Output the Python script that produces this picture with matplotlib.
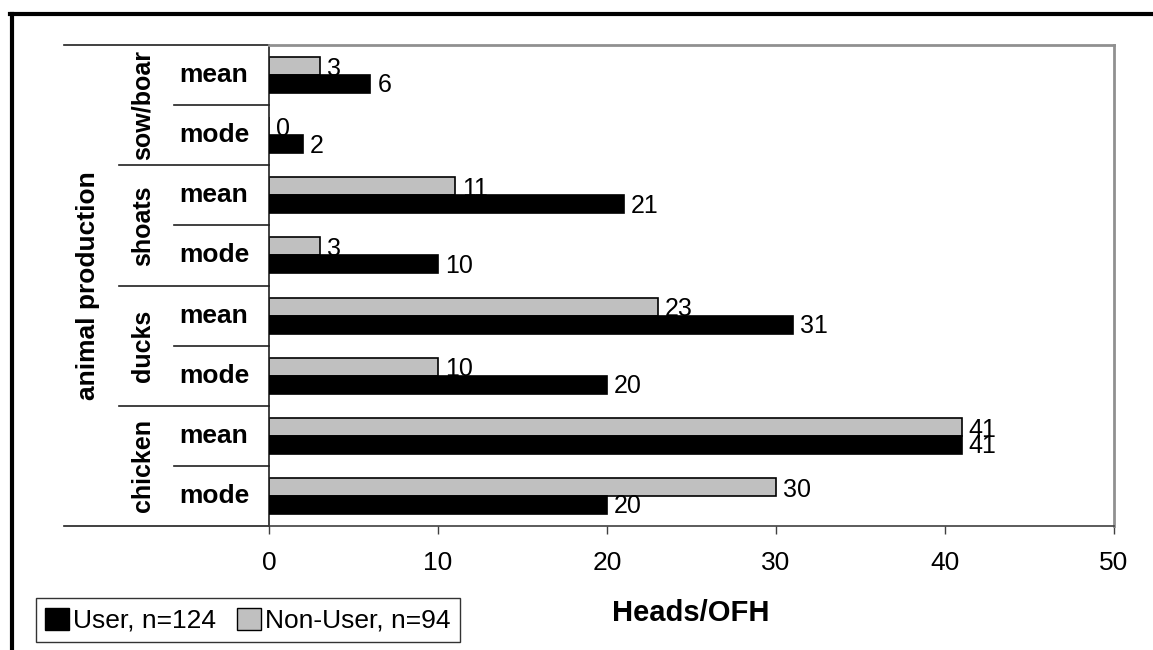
import numpy as np
import matplotlib
matplotlib.use('Agg')
import matplotlib.pyplot as plt
from matplotlib.lines import Line2D
from matplotlib.patches import Patch

plt.rcParams['font.family'] = ['Liberation Sans', 'DejaVu Sans']

# data (top row first)
groups = ['sow/boar', 'shoats', 'ducks', 'chicken']
stats = ['mean', 'mode']
user_vals = [6, 2, 21, 10, 31, 20, 41, 20]
nonuser_vals = [3, 0, 11, 3, 23, 10, 41, 30]
x_ticks = [0, 10, 20, 30, 40, 50]
user_label = 'User, n=124'
nonuser_label = 'Non-User, n=94'
x_title = 'Heads/OFH'
outer_title = 'animal production'

GRAY = '#c0c0c0'
W, H = 1153, 650


def main():
    fig = plt.figure(figsize=(W / 100, H / 100), dpi=100)
    ax = fig.add_axes([269 / W, 1 - 526 / H, (1114 - 269) / W, (526 - 45) / H])

    n = len(user_vals)
    y = np.arange(n)
    bh = 0.3

    # non-user bars + labels sit under the user bars (Excel draw order)
    ax.barh(y - bh / 2, nonuser_vals, height=bh, color=GRAY,
            edgecolor='black', linewidth=1.2, zorder=2)
    for yi, v in zip(y, nonuser_vals):
        ax.annotate(str(v), (v, yi - bh / 2), xytext=(5, -2),
                    textcoords='offset points', ha='left', va='center',
                    fontsize=18, zorder=3)
    ax.barh(y + bh / 2, user_vals, height=bh, color='black',
            edgecolor='black', linewidth=1.2, zorder=4)
    for yi, v in zip(y, user_vals):
        ax.annotate(str(v), (v, yi + bh / 2), xytext=(5, -1),
                    textcoords='offset points', ha='left', va='center',
                    fontsize=18, zorder=5)

    ax.set_xlim(0, 50)
    ax.set_ylim(n - 0.5, -0.5)
    ax.set_xticks(x_ticks)
    ax.set_yticks([])
    ax.tick_params(axis='x', direction='out', length=6, width=1,
                   color='#404040', labelsize=19, pad=12)

    ax.spines['top'].set_color('#909090')
    ax.spines['right'].set_color('#909090')
    ax.spines['top'].set_linewidth(2)
    ax.spines['right'].set_linewidth(2)
    ax.spines['left'].set_color('#202020')
    ax.spines['bottom'].set_color('#404040')
    ax.spines['left'].set_linewidth(1.2)
    ax.spines['bottom'].set_linewidth(1.2)

    # two-level category axis
    tr = ax.get_yaxis_transform()
    x_full, x_grp, x_in = -0.2426, -0.1775, -0.1124
    for yy in (-0.5, n - 0.5):
        ax.plot([x_full, 0], [yy, yy], color='#202020', lw=1.2,
                transform=tr, clip_on=False)
    for k in range(1, len(groups)):
        yy = 2 * k - 0.5
        ax.plot([x_grp, 0], [yy, yy], color='#202020', lw=1.2,
                transform=tr, clip_on=False)
    for k in range(len(groups)):
        yy = 2 * k + 0.5
        ax.plot([x_in, 0], [yy, yy], color='#202020', lw=1.2,
                transform=tr, clip_on=False)

    for i in range(n):
        ax.text(-0.0651, i, stats[i % 2], transform=tr, ha='center',
                va='center', fontsize=19, fontweight='bold')
    for k, g in enumerate(groups):
        ax.text(-0.1491, 2 * k + 0.5, g, transform=tr, ha='center',
                va='center', rotation=90, fontsize=18, fontweight='bold')
    ax.text(-0.2142, (n - 1) / 2, outer_title, transform=tr, ha='center',
            va='center', rotation=90, fontsize=19, fontweight='bold')

    fig.text(691 / W, 1 - 613 / H, x_title, ha='center', va='center',
             fontsize=21, fontweight='bold')

    handles = [Patch(facecolor='black', edgecolor='black', label=user_label),
               Patch(facecolor=GRAY, edgecolor='black', label=nonuser_label)]
    leg = fig.legend(handles=handles, loc='lower left', ncol=2,
                     bbox_to_anchor=(36 / W, 1 - 642 / H), borderaxespad=0,
                     fontsize=19, frameon=True, fancybox=False,
                     handlelength=0.9, handleheight=0.9, handletextpad=0.15,
                     columnspacing=0.8, borderpad=0.35)
    leg.get_frame().set_edgecolor('black')
    leg.get_frame().set_linewidth(1)

    # outer frame (cut off on right and bottom)
    fig.add_artist(Line2D([10 / W, 1], [1 - 14 / H, 1 - 14 / H],
                          transform=fig.transFigure, color='black', lw=3))
    fig.add_artist(Line2D([12 / W, 12 / W], [0, 1 - 14 / H],
                          transform=fig.transFigure, color='black', lw=3))

    fig.savefig('out.png', dpi=100)


if __name__ == '__main__':
    main()
